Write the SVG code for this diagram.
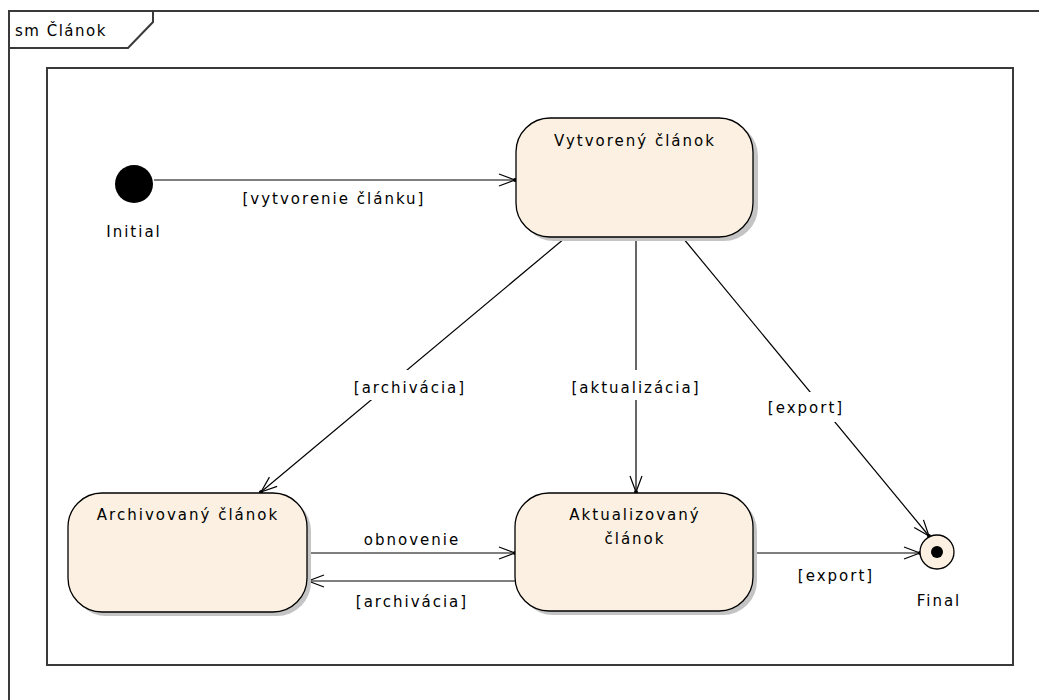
<svg xmlns="http://www.w3.org/2000/svg" width="1039" height="700" viewBox="0 0 1039 700">
  <style>
    .frame { fill: none; stroke: #3a3a3a; stroke-width: 2; }
    .state { fill: #fbf0e1; stroke: #000; stroke-width: 1.3; }
    .shadow { fill: #c4c4c4; }
    .edge { fill: none; stroke: #000; stroke-width: 1.2; }
    .lbl { font-family: "DejaVu Sans", sans-serif; font-size: 15px; letter-spacing: 2px; fill: #000; text-anchor: middle; }
    .bg { fill: #fff; }
  </style>
  <defs>
    <marker id="open" markerUnits="userSpaceOnUse" markerWidth="24" markerHeight="24" viewBox="-20 -12 24 24" refX="0" refY="0" orient="auto">
      <path d="M0,0 L-16,-6 M0,0 L-16,6" fill="none" stroke="#000" stroke-width="1.2"/>
      <circle cx="0" cy="0" r="2" fill="#000"/>
    </marker>
  </defs>

  <!-- diagram frame -->
  <g id="frame">
    <rect x="9" y="11" width="1040" height="700" class="frame"/>
    <path d="M9,48 L128,48 L153,22 L153,11" class="frame"/>
    <text x="15" y="36" class="lbl" style="text-anchor:start;letter-spacing:1.5px">sm Článok</text>
    <rect x="47" y="68" width="966" height="597" class="frame"/>
  </g>

  <!-- transitions -->
  <g id="connectors">
    <line x1="154" y1="180" x2="515" y2="180" class="edge" marker-end="url(#open)"/>
    <line x1="565" y1="238" x2="261" y2="492" class="edge" marker-end="url(#open)"/>
    <line x1="636" y1="238" x2="636" y2="492" class="edge" marker-end="url(#open)"/>
    <line x1="683" y1="238" x2="929" y2="536" class="edge" marker-end="url(#open)"/>
    <line x1="308" y1="553" x2="515" y2="553" class="edge" marker-end="url(#open)"/>
    <line x1="515" y1="581" x2="308" y2="581" class="edge" marker-end="url(#open)"/>
    <line x1="753" y1="553" x2="920" y2="553" class="edge" marker-end="url(#open)"/>

    <text x="334" y="204" class="lbl">[vytvorenie článku]</text>
    <rect x="350" y="370" width="120" height="30" class="bg"/>
    <text x="410" y="393" class="lbl">[archivácia]</text>
    <rect x="570" y="370" width="132" height="30" class="bg"/>
    <text x="636" y="393" class="lbl">[aktualizácia]</text>
    <rect x="766" y="392" width="80" height="30" class="bg"/>
    <text x="806" y="413" class="lbl">[export]</text>
    <text x="412" y="545" class="lbl">obnovenie</text>
    <text x="412" y="607" class="lbl">[archivácia]</text>
    <text x="836" y="581" class="lbl">[export]</text>
  </g>

  <!-- initial pseudostate -->
  <g id="initial">
    <circle cx="134" cy="184" r="19" fill="#000"/>
    <text x="134" y="237" class="lbl">Initial</text>
  </g>

  <!-- states -->
  <g id="vytvoreny">
    <rect x="520" y="122" width="238" height="119" rx="34" class="shadow"/>
    <rect x="516" y="118" width="237" height="119" rx="34" class="state"/>
    <text x="635" y="146" class="lbl">Vytvorený článok</text>
  </g>

  <g id="archivovany">
    <rect x="72" y="497" width="239" height="119" rx="34" class="shadow"/>
    <rect x="68" y="493" width="239" height="119" rx="34" class="state"/>
    <text x="188" y="520" class="lbl">Archivovaný článok</text>
  </g>

  <g id="aktualizovany">
    <rect x="519" y="497" width="238" height="118" rx="34" class="shadow"/>
    <rect x="515" y="493" width="238" height="118" rx="34" class="state"/>
    <text x="635" y="520" class="lbl">Aktualizovaný</text>
    <text x="635" y="544" class="lbl">článok</text>
  </g>

  <!-- final state -->
  <g id="final">
    <circle cx="937" cy="552" r="17" class="state"/>
    <circle cx="937" cy="552" r="6" fill="#000"/>
    <text x="939" y="606" class="lbl">Final</text>
  </g>
</svg>
